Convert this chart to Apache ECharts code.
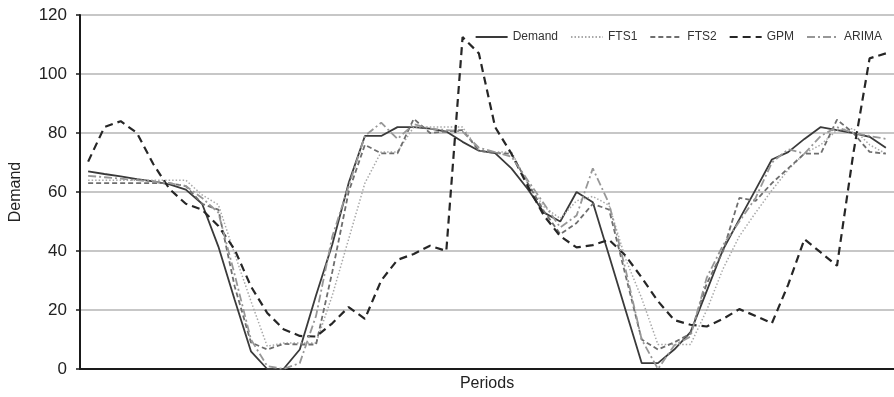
<!DOCTYPE html>
<html>
<head>
<meta charset="utf-8">
<title>Demand forecasts</title>
<script src="https://cdn.jsdelivr.net/npm/echarts@6/dist/echarts.min.js"></script>
<style>
  html, body { margin: 0; padding: 0; background: #fff; }
  #chart { width: 894px; height: 397px; }
</style>
</head>
<body>
<div id="chart"></div>
<script>
// periods 1..50
var periods = [];
for (var p = 1; p <= 50; p++) periods.push(String(p));

var yTicks = [0, 20, 40, 60, 80, 100, 120];

var demand = [67, 66.1, 65.3, 64.4, 63.6, 62.6, 60.8, 56, 41.5, 23.5,
  6, 0, 0, 6.6, 25, 42.3, 63, 79, 79, 82,
  82, 81.5, 80.5, 77, 74, 73.2, 68, 61, 53, 50,
  60, 56.5, 38.4, 20.2, 2, 2, 6.6, 12.5, 26.5, 40.5,
  50.7, 60.8, 71, 73.5, 78, 82, 81, 80, 78.7, 75];

var fts1 = [64, 64, 64, 64, 64, 64, 64, 59, 55.7, 39,
  23, 7.7, 8.8, 8.8, 8.8, 25, 44, 63, 73.6, 73.6,
  82, 82, 82, 82, 74, 73.6, 73.6, 63, 55, 51,
  57, 58.5, 55.5, 37.5, 24, 8.3, 8.3, 8.3, 20, 34,
  45, 53, 60.6, 67.5, 73.1, 76, 81, 81.5, 76, 73];

var fts2 = [63, 63, 63, 63, 63, 63, 62, 56, 54, 28,
  9, 6.6, 8.5, 8.3, 8.3, 33, 60, 76, 73.1, 73.1,
  84.8, 80, 80.5, 81, 74, 73.2, 73, 63, 53.5, 45.7,
  49.5, 56, 54, 32, 10, 6.6, 9, 12, 29, 40,
  58, 57, 63, 68, 73, 73, 84.5, 80, 73.6, 73];

var gpm = [70.3, 82, 84, 80, 69.5, 61, 56, 54, 48.5, 40.5,
  28, 19, 13.5, 11.2, 11, 15.5, 21, 17, 30, 37,
  39, 41.8, 40, 112.5, 107, 82, 73, 62, 52, 45,
  41.2, 42, 43.8, 38.5, 31, 23, 16.6, 15, 14.4, 17,
  20.3, 18, 15.5, 28.6, 44, 39.5, 35, 73, 105.3, 107];

var arima = [65.5, 65, 64.5, 64, 63.5, 63, 62, 58, 53, 32,
  10, 1, 0, 2, 18, 45, 62, 79, 83.5, 78,
  83, 81.5, 81, 80.5, 75, 73.5, 72, 64, 56, 48,
  52, 68, 56, 34, 10, 0, 8, 11, 31, 42,
  50, 58, 70, 74.5, 73, 79, 82, 80, 79, 78];

var font = '"Liberation Sans", Arial, Helvetica, sans-serif';

function makeLine(name, data, color, width, dash) {
  return {
    name: name,
    type: 'line',
    data: data,
    symbol: 'none',
    smooth: false,
    lineStyle: { color: color, width: width, type: dash },
    itemStyle: { color: color }
  };
}

var chart = echarts.init(document.getElementById('chart'));
chart.setOption({
  backgroundColor: '#fff',
  animation: false,
  textStyle: { fontFamily: font },
  legend: {
    top: 26,
    right: 7,
    itemWidth: 32,
    itemHeight: 10,
    itemGap: 12,
    itemStyle: { opacity: 0 },   // only the line in the legend, no dot
    textStyle: { fontSize: 12, color: '#333', fontFamily: font },
    data: ['Demand', 'FTS1', 'FTS2', 'GPM', 'ARIMA']
  },
  grid: { left: 76, right: 0, top: 15, bottom: 24 },
  xAxis: {
    type: 'category',
    data: periods,
    boundaryGap: true,
    name: 'Periods',
    nameLocation: 'middle',
    nameGap: 7,
    nameTextStyle: { fontSize: 16, color: '#222', fontFamily: font, verticalAlign: 'top' },
    axisLine: { lineStyle: { color: '#1a1a1a', width: 2 } },
    axisTick: { show: false },
    axisLabel: { show: false },
    splitLine: { show: false }
  },
  yAxis: {
    type: 'value',
    min: yTicks[0],
    max: yTicks[yTicks.length - 1],
    interval: 20,
    name: 'Demand',
    nameLocation: 'middle',
    nameRotate: 90,
    nameGap: 56,
    nameTextStyle: { fontSize: 16, color: '#222', fontFamily: font },
    axisLine: { show: true, lineStyle: { color: '#1a1a1a', width: 2 } },
    axisTick: { show: true, length: 4, lineStyle: { color: '#1a1a1a', width: 1.5 } },
    axisLabel: { fontSize: 17, color: '#222', margin: 13, fontFamily: font },
    splitLine: { lineStyle: { color: '#b4b4b4', width: 1.5 } }
  },
  series: [
    makeLine('Demand', demand, '#3a3a3a', 1.8, 'solid'),
    makeLine('FTS1', fts1, '#a8a8a8', 1.5, [1.5, 2]),
    makeLine('FTS2', fts2, '#6e6e6e', 1.8, [5, 3]),
    makeLine('GPM', gpm, '#262626', 2.2, [8, 5]),
    makeLine('ARIMA', arima, '#979797', 1.8, [8, 3, 2, 3])
  ]
});
</script>
</body>
</html>
